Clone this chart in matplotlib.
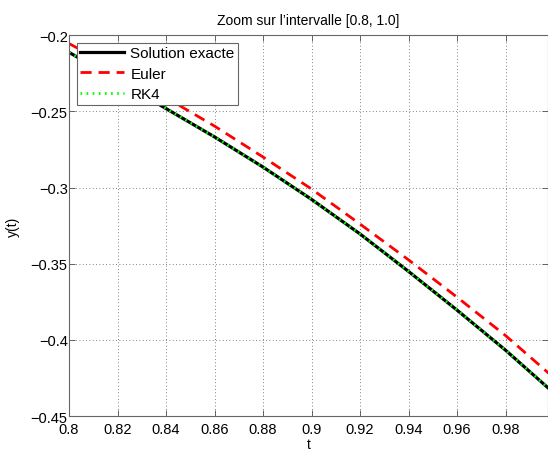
import numpy as np
import matplotlib.pyplot as plt

plt.rcParams['font.family'] = ['Liberation Sans', 'DejaVu Sans']

# Valeurs
t = [0.80, 0.82, 0.84, 0.86, 0.88, 0.90, 0.92, 0.94, 0.96, 0.98, 1.00]
y_exacte = [-0.2113, -0.2295, -0.2482, -0.2668, -0.2866, -0.3078,
            -0.3305, -0.3551, -0.3805, -0.4068, -0.4350]
y_euler = [-0.2055, -0.2228, -0.2410, -0.2597, -0.2800, -0.3010,
           -0.3240, -0.3475, -0.3720, -0.3972, -0.4250]
y_rk4 = [-0.2113, -0.2295, -0.2482, -0.2668, -0.2866, -0.3078,
         -0.3305, -0.3551, -0.3805, -0.4068, -0.4350]

xticks = [0.80, 0.82, 0.84, 0.86, 0.88, 0.90, 0.92, 0.94, 0.96, 0.98]
xticklabels = ['0.8', '0.82', '0.84', '0.86', '0.88', '0.9', '0.92', '0.94', '0.96', '0.98']
yticks = [-0.45, -0.4, -0.35, -0.3, -0.25, -0.2]
yticklabels = ['\u22120.45', '\u22120.4', '\u22120.35', '\u22120.3', '\u22120.25', '\u22120.2']

fig = plt.figure(figsize=(5.48, 4.52), dpi=100)
ax = fig.add_axes([0.126, 0.0774, 0.874, 0.8426])

ax.plot(t, y_exacte, color='k', lw=2.3, label='Solution exacte')
ax.plot(t, y_euler, color='r', lw=2.0, ls=(0, (4, 2.5)), label='Euler')
ax.plot(t, y_rk4, color='#00ff00', lw=2.0, ls=(0, (0.6, 1.6)), label='RK4')

ax.set_xlim(0.8, 0.9975)
ax.set_ylim(-0.45, -0.2)
ax.set_xticks(xticks)
ax.set_xticklabels(xticklabels)
ax.set_yticks(yticks)
ax.set_yticklabels(yticklabels)
ax.tick_params(direction='in', length=4, width=0.6, top=True, right=True,
               labelsize=10.5, colors='0.3', labelcolor='k')
ax.tick_params(axis='y', pad=1)
ax.tick_params(axis='x', pad=4)
for s in ax.spines.values():
    s.set_color('0.4')
    s.set_linewidth(0.8)

ax.grid(True, color='0.35', ls=(0, (1, 3)), lw=0.6)

ax.set_title("Zoom sur l\u2019intervalle [0.8, 1.0]", fontsize=10, pad=8)
ax.set_xlabel('t', fontsize=10, labelpad=1)
ax.set_ylabel('y(t)', fontsize=10, labelpad=8)

leg = ax.legend(loc='upper left', fontsize=11, fancybox=False, framealpha=1,
                edgecolor='0.4', borderaxespad=0.5, handlelength=2.9,
                handletextpad=0.4, labelspacing=0.43, borderpad=0.22)
leg.get_frame().set_linewidth(0.8)

plt.savefig('out.png', dpi=100)
